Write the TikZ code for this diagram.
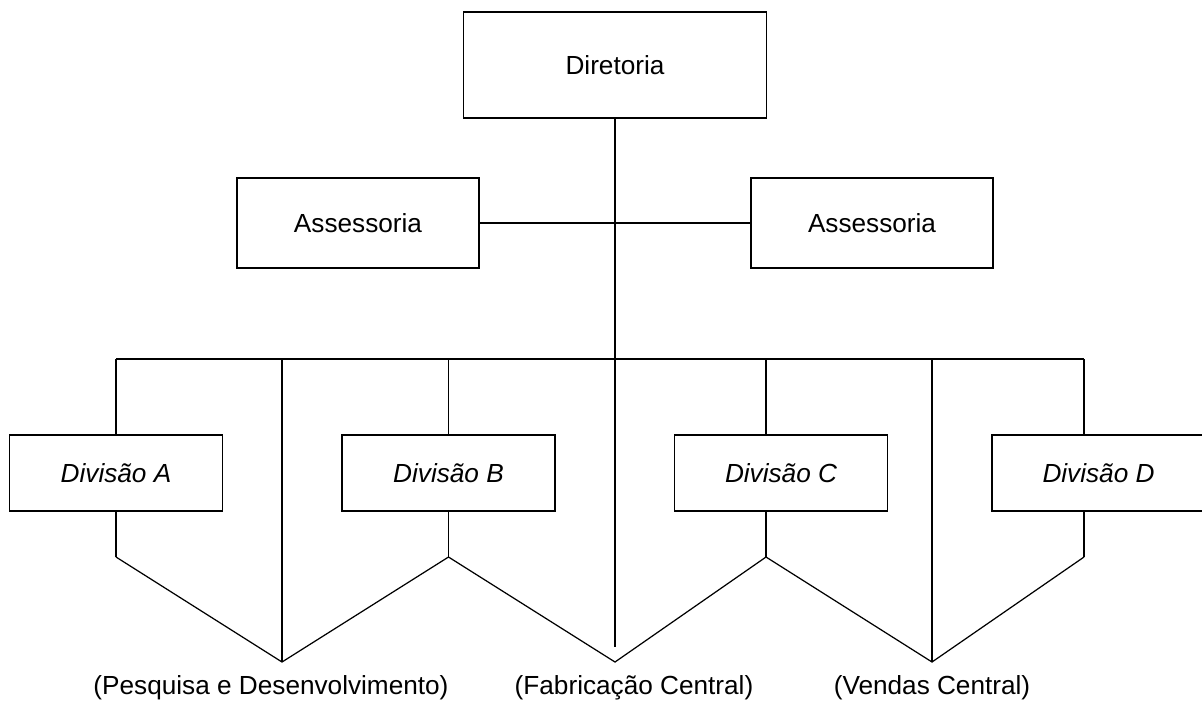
\documentclass[tikz,border=0pt]{standalone}
\usepackage{fontspec}
\setmainfont{Liberation Sans}
\usepackage{tikz}
\usetikzlibrary{calc}

\tikzset{
  box/.style={draw, line width=0.9pt, inner sep=0pt, font=\fontsize{14.9}{17}\selectfont},
  divbox/.style={box, minimum width=4.26cm, minimum height=1.52cm, font=\fontsize{14.9}{17}\selectfont\itshape},
  assbox/.style={box, minimum width=4.84cm, minimum height=1.8cm},
  conn/.style={line width=0.7pt},
  lbl/.style={anchor=base, inner sep=0pt, font=\fontsize{14.9}{17}\selectfont}
}

\begin{document}
\begin{tikzpicture}[x=0.02cm, y=-0.02cm]
\useasboundingbox (0,0) rectangle (1202,701);
\node[box, minimum width=6.06cm, minimum height=2.12cm] (dir) at (615,65) {Diretoria};
\node[assbox] (assL) at (358,223) {Assessoria};
\node[assbox] (assR) at (872,223) {Assessoria};
\node[divbox] (divA) at (116,473) {Divisão A};
\node[divbox] (divB) at (448.5,473) {Divisão B};
\node[divbox] (divC) at (781,473) {Divisão C};
\node[divbox] (divD) at (1098.5,473) {Divisão D};
\path
(271,694) node[lbl] (lPD) {(Pesquisa e Desenvolvimento)};
\path
(634,694) node[lbl] (lFC) {(Fabricação Central)};
\path
(932,694) node[lbl] (lVC) {(Vendas Central)};
\coordinate (tA) at (116,359);
\coordinate (tB) at (448.5,359);
\coordinate (tC) at (766,359);
\coordinate (tD) at (1084,359);
\coordinate (kA) at (116,557);
\coordinate (kB) at (448.5,557);
\coordinate (kC) at (766,557);
\coordinate (kD) at (1084,557);
\coordinate (tPD) at (282,359);
\coordinate (tVC) at (932,359);
\coordinate (pPD) at (282,662);
\coordinate (pFC) at (615,662);
\coordinate (pVC) at (932,662);
\coordinate (cEnd) at (615,647);
\draw[conn] (dir.south) -- (cEnd);
\draw[conn] (assL.east) -- (assR.west);
\draw[conn] (tA) -- (tD);
\foreach \d in {A,B,C,D} \draw[conn] (t\d) -- (t\d |- div\d.north) (t\d |- div\d.south) -- (k\d);
\draw[conn] (tPD) -- (pPD);
\draw[conn] (tVC) -- (pVC);
\draw[conn] (kA) -- (pPD) -- (kB) -- (pFC) -- (kC) -- (pVC) -- (kD);
\end{tikzpicture}
\end{document}
